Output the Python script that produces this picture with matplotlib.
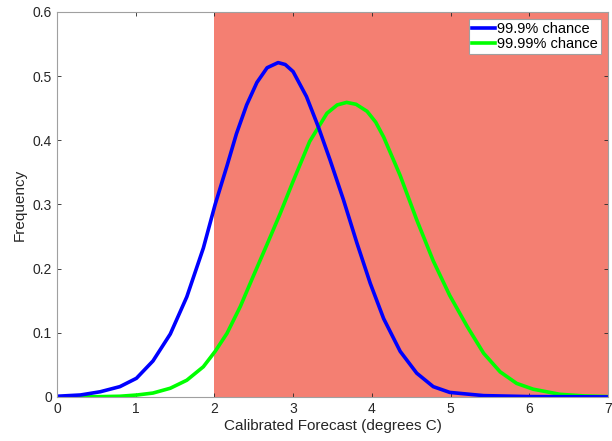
import numpy as np
import matplotlib
matplotlib.use("Agg")
import matplotlib.pyplot as plt

# values
blue_x = [0.0, 0.3, 0.55, 0.8, 1.01, 1.22, 1.44, 1.65, 1.86, 2.01, 2.16, 2.28, 2.41, 2.54, 2.67,
          2.81, 2.9, 3.0, 3.17, 3.32, 3.47, 3.64, 3.81, 3.98, 4.15, 4.36, 4.57, 4.78, 4.99, 5.42,
          6.0, 7.0]
blue_y = [0.001, 0.003, 0.008, 0.016, 0.029, 0.056, 0.098, 0.156, 0.232, 0.300, 0.360, 0.410, 0.455,
          0.490, 0.513, 0.521, 0.518, 0.507, 0.468, 0.421, 0.369, 0.307, 0.240, 0.177, 0.122, 0.071,
          0.037, 0.016, 0.007, 0.002, 0.0005, 0.0]

green_x = [0.0, 0.5, 0.8, 1.02, 1.22, 1.44, 1.65, 1.86, 2.01, 2.16, 2.33, 2.49, 2.67, 2.83, 3.0,
           3.21, 3.43, 3.56, 3.68, 3.80, 3.94, 4.05, 4.15, 4.36, 4.57, 4.78, 4.99, 5.21, 5.42, 5.63,
           5.84, 6.05, 6.39, 6.7, 7.0]
green_y = [0.0, 0.0003, 0.001, 0.003, 0.006, 0.0135, 0.026, 0.047, 0.071, 0.099, 0.141, 0.187, 0.238,
           0.284, 0.336, 0.398, 0.442, 0.455, 0.459, 0.456, 0.445, 0.428, 0.405, 0.345, 0.276, 0.212,
           0.158, 0.110, 0.068, 0.039, 0.021, 0.012, 0.004, 0.0015, 0.0005]

shade = (2, 7)
labels = ["99.9% chance", "99.99% chance"]

plt.rcParams['font.family'] = ['Liberation Sans', 'DejaVu Sans']

fig = plt.figure(figsize=(6.12, 4.41), dpi=100)
ax = fig.add_axes([0.093, 0.1, 0.9005, 0.873])

ax.axvspan(shade[0], shade[1], color='#f47f72', lw=0, zorder=0)
ax.plot(blue_x, blue_y, color='#0000ff', lw=2.6, label=labels[0], zorder=3,
        solid_joinstyle='round')
ax.plot(green_x, green_y, color='#00ff00', lw=2.6, label=labels[1], zorder=2,
        solid_joinstyle='round')

ax.set_xlim(0, 7)
ax.set_ylim(0, 0.6)
ax.set_xticks(range(0, 8))
ax.set_yticks(np.arange(0, 0.61, 0.1))
ax.set_yticklabels(['0', '0.1', '0.2', '0.3', '0.4', '0.5', '0.6'])
ax.tick_params(direction='in', top=True, right=True, labelsize=10, colors='#262626',
               length=3, width=0.6)
for s in ax.spines.values():
    s.set_color('#a0a0a0')
    s.set_linewidth(0.8)
    s.set_zorder(5)

ax.set_xlabel('Calibrated Forecast (degrees C)', fontsize=11, color='#262626', labelpad=2)
ax.set_ylabel('Frequency', fontsize=11, color='#262626', labelpad=4)

leg = ax.legend(loc='upper right', fontsize=10.5, handlelength=1.6, handletextpad=0.15,
                borderpad=0.2, labelspacing=0.05, fancybox=False, framealpha=1,
                borderaxespad=0.5)
leg.get_frame().set_edgecolor('#a0a0a0')
leg.get_frame().set_linewidth(0.8)

plt.savefig('out.png', dpi=100)
